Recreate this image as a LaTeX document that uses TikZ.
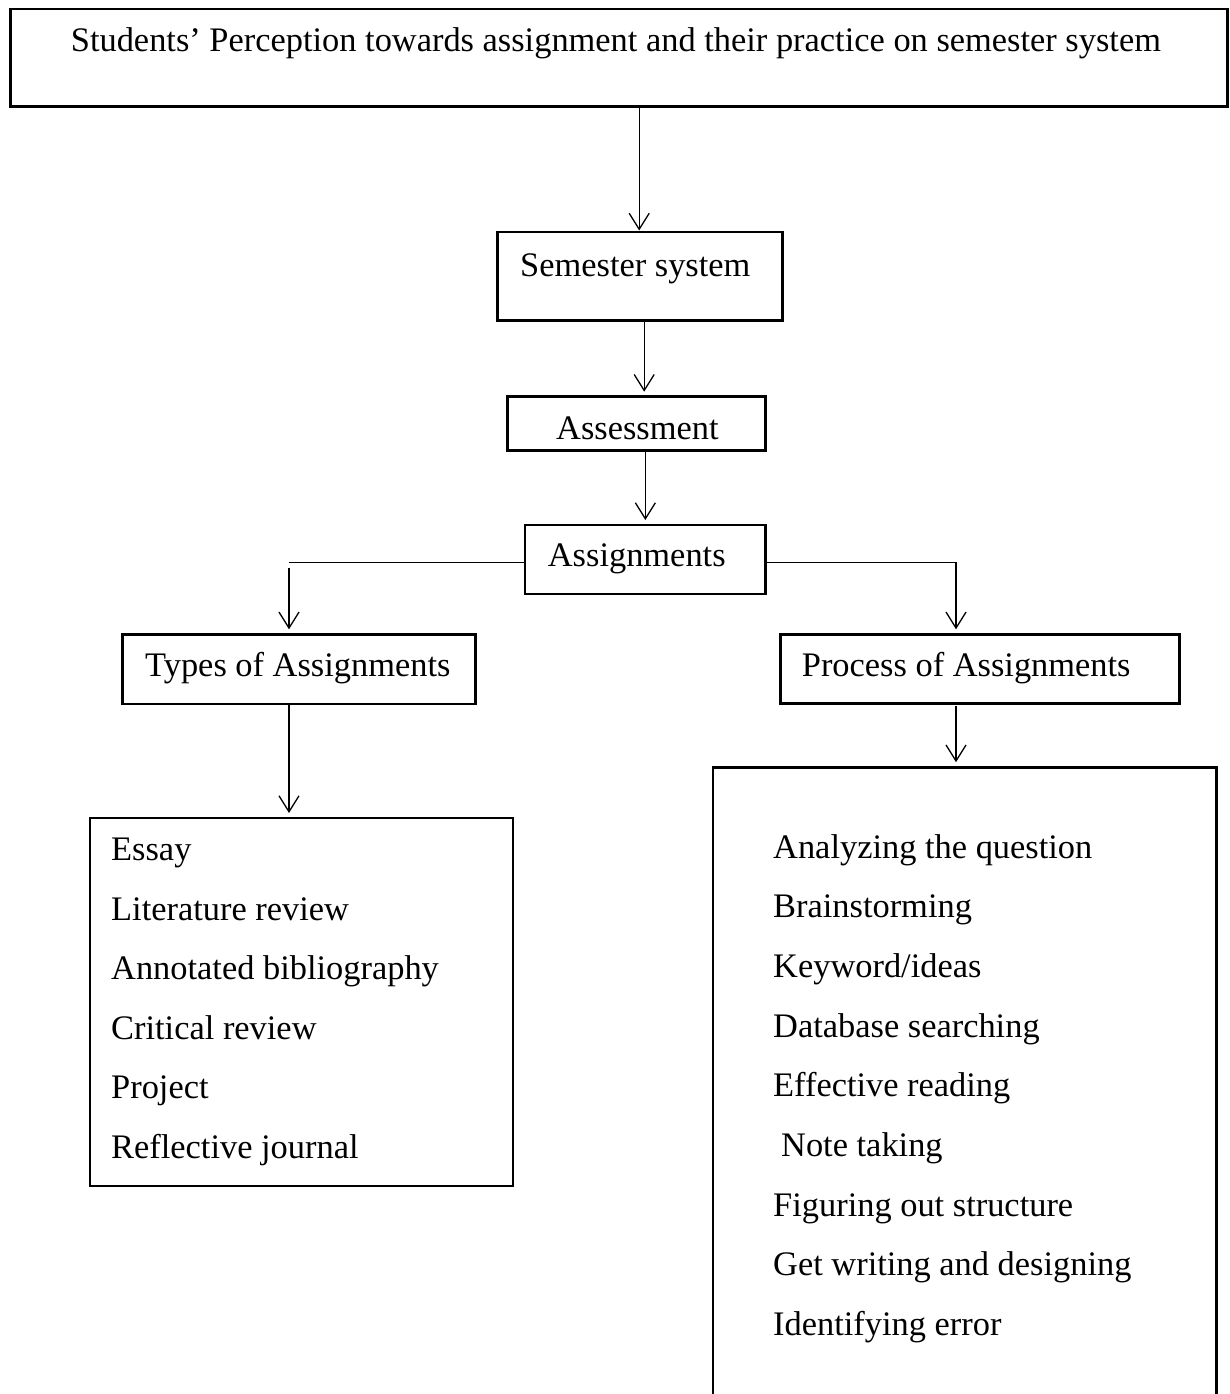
\documentclass[tikz,border=0pt]{standalone}
\usepackage{fontspec}
\setmainfont{Liberation Serif}
\usetikzlibrary{arrows.meta}
\begin{document}
\begin{tikzpicture}[x=1pt,y=-1pt,
  box/.style={draw, line width=2.7pt, inner sep=0pt, outer sep=0pt, anchor=north west},
  frame/.style={inner sep=0pt, outer sep=0pt, anchor=north west},
  lbl/.style={anchor=base west, inner sep=0pt, font=\fontsize{34.4}{40}\selectfont},
  conn/.style={line width=1.3pt},
  arr/.style={line width=1.3pt, -{Straight Barb[length=16pt,width=20pt,line width=1.3pt]}}]
\useasboundingbox (0,0) rectangle (1230,1394);

% boxes
\node[box, minimum width=1217pt, minimum height=97.7pt] (top) at (10.7,9) {};
\node[box, minimum width=285pt, minimum height=88.7pt] (sem) at (497.7,232) {};
\node[box, minimum width=258pt, minimum height=54pt] (ass) at (507.7,396.7) {};
\node[box, minimum width=240.7pt, minimum height=69pt] (asg) at (525,525) {};
\node[box, minimum width=353.4pt, minimum height=69.7pt] (types) at (122.3,634.3) {};
\node[box, minimum width=398.6pt, minimum height=69pt] (proc) at (780.7,634.3) {};
\node[box, minimum width=423pt, minimum height=368pt] (tlist) at (90,818) {};
\node[frame, minimum width=503.7pt, minimum height=630pt] (plist) at (713,767.7) {};
\draw[line width=2.7pt] (plist.south west) -- (plist.north west) -- (plist.north east) -- (plist.south east);

% texts
\node[lbl] (t0) at (70.7,51.7) {Students’ Perception towards assignment and their practice on semester system};
\node[lbl] (t1) at (520,276) {Semester system};
\node[lbl] (t2) at (556,439) {Assessment};
\node[lbl] (t3) at (547.7,566.7) {Assignments};
\node[lbl] (t4) at (145,676.7) {Types of Assignments};
\node[lbl] (t5) at (801.7,676.7) {Process of Assignments};

\node[lbl] (l1) at (111,860.5) {Essay};
\node[lbl] (l2) at (111,920) {Literature review};
\node[lbl] (l3) at (111,979.5) {Annotated bibliography};
\node[lbl] (l4) at (111,1039) {Critical review};
\node[lbl] (l5) at (111,1098.5) {Project};
\node[lbl] (l6) at (111,1158) {Reflective journal};

\node[lbl] (r1) at (773,858) {Analyzing the question};
\node[lbl] (r2) at (773,917.7) {Brainstorming};
\node[lbl] (r3) at (773,977.4) {Keyword/ideas};
\node[lbl] (r4) at (773,1037.1) {Database searching};
\node[lbl] (r5) at (773,1096.8) {Effective reading};
\node[lbl] (r6) at (781,1156.5) {Note taking};
\node[lbl] (r7) at (773,1216.2) {Figuring out structure};
\node[lbl] (r8) at (773,1275.9) {Get writing and designing};
\node[lbl] (r9) at (773,1335.6) {Identifying error};

% connectors
\draw[arr, shorten >=1.5pt] ([xshift=-1pt]top.south -| sem.north) -- ([xshift=-1pt]sem.north);
\draw[arr, shorten >=5pt] ([xshift=4pt]sem.south) -- ([xshift=4pt]sem.south |- ass.north);
\draw[arr, shorten >=5pt] (ass.south -| asg.north) -- (asg.north);

\coordinate (lb) at (289,562.7);
\coordinate (rb) at (956,562.7);
\draw[conn] (asg.west |- lb) -- (lb);
\draw[arr, shorten <=5pt, shorten >=5pt] (lb) -- (lb |- types.north);
\draw[arr, shorten >=5pt] (asg.east |- rb) -- (rb) -- (rb |- proc.north);

\draw[arr, shorten >=5pt] (lb |- types.south) -- (lb |- tlist.north);
\draw[arr, shorten <=3pt, shorten >=5.5pt] (rb |- proc.south) -- (rb |- plist.north);
\end{tikzpicture}
\end{document}
